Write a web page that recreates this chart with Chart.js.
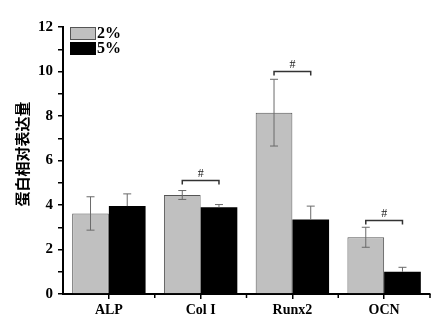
<!DOCTYPE html>
<html>
<head>
<meta charset="utf-8">
<script src="https://cdn.jsdelivr.net/npm/chart.js@4"></script>
<style>
  body { margin: 0; background: #fff; }
  #wrap { width: 445px; height: 326px; }
</style>
</head>
<body>
<div id="wrap"><canvas id="barChart"></canvas></div>
<script>
const categories = ['ALP', 'Col I', 'Runx2', 'OCN'];
const series2 = [3.62, 4.45, 8.15, 2.55];
const err2 = [0.75, 0.2, 1.5, 0.45];
const series5 = [3.95, 3.9, 3.35, 1.0];
const err5 = [0.55, 0.12, 0.6, 0.2];
const yTicks = [0, 2, 4, 6, 8, 10, 12];
const sigIndex = [1, 2, 3];
const sigLevel = [5.1, 10.0, 3.3];

const serif = '"Liberation Serif", "DejaVu Serif", serif';

// error bars, significance brackets, minor x ticks, legend and y title
const extras = {
  id: 'extras',
  afterDatasetsDraw(chart) {
    const ctx = chart.ctx;
    const y = chart.scales.y;
    const x = chart.scales.x;
    const errs = [err2, err5];
    const vals = [series2, series5];
    ctx.save();
    ctx.strokeStyle = '#6a6a6a';
    ctx.lineWidth = 1;
    for (let d = 0; d < 2; d++) {
      const meta = chart.getDatasetMeta(d);
      meta.data.forEach((bar, i) => {
        const top = y.getPixelForValue(vals[d][i] + errs[d][i]);
        const mid = y.getPixelForValue(vals[d][i]);
        const bot = y.getPixelForValue(vals[d][i] - errs[d][i]);
        ctx.beginPath();
        ctx.moveTo(bar.x, top);
        ctx.lineTo(bar.x, d === 0 ? bot : mid);
        ctx.moveTo(bar.x - 4, top); ctx.lineTo(bar.x + 4, top);
        if (d === 0) { ctx.moveTo(bar.x - 4, bot); ctx.lineTo(bar.x + 4, bot); }
        ctx.stroke();
      });
    }
    // brackets
    ctx.strokeStyle = '#333';
    ctx.lineWidth = 1.5;
    ctx.fillStyle = '#222';
    ctx.font = '12px ' + serif;
    ctx.textAlign = 'center';
    ctx.textBaseline = 'bottom';
    sigIndex.forEach((ci, k) => {
      const x1 = chart.getDatasetMeta(0).data[ci].x;
      const x2 = chart.getDatasetMeta(1).data[ci].x;
      const py = y.getPixelForValue(sigLevel[k]);
      ctx.beginPath();
      ctx.moveTo(x1, py + 4); ctx.lineTo(x1, py); ctx.lineTo(x2, py); ctx.lineTo(x2, py + 4);
      ctx.stroke();
      ctx.fillText('#', (x1 + x2) / 2, py - 1);
    });
    // minor x ticks at category boundaries
    ctx.strokeStyle = '#000';
    ctx.lineWidth = 1.5;
    const step = (x.right - x.left) / categories.length;
    for (let i = 1; i <= categories.length; i++) {
      const px = x.left + step * i;
      ctx.beginPath();
      ctx.moveTo(px, y.bottom); ctx.lineTo(px, y.bottom + 4);
      ctx.stroke();
    }
    // legend
    ctx.lineWidth = 1;
    ctx.fillStyle = '#c0c0c0';
    ctx.fillRect(70, 27, 26, 13);
    ctx.strokeStyle = '#555';
    ctx.strokeRect(70.5, 27.5, 25, 12);
    ctx.fillStyle = '#000';
    ctx.fillRect(70, 42, 26, 13);
    ctx.font = 'bold 16px ' + serif;
    ctx.textAlign = 'left';
    ctx.textBaseline = 'middle';
    ctx.fillText('2%', 97, 34);
    ctx.fillText('5%', 97, 49);
    // y title
    ctx.translate(22, 154);
    ctx.rotate(-Math.PI / 2);
    ctx.textAlign = 'center';
    ctx.font = 'bold 15px "Noto Sans CJK SC", sans-serif';
    ctx.fillText('蛋白相对表达量', 0, 0);
    ctx.restore();
  }
};

new Chart(document.getElementById('barChart'), {
  type: 'bar',
  data: {
    labels: categories,
    datasets: [
      { label: '2%', data: series2, backgroundColor: '#c0c0c0', borderColor: '#555', borderWidth: 1,
        categoryPercentage: 0.8, barPercentage: 1.0 },
      { label: '5%', data: series5, backgroundColor: '#000', borderColor: '#000', borderWidth: 0,
        categoryPercentage: 0.8, barPercentage: 1.0 }
    ]
  },
  options: {
    responsive: true,
    maintainAspectRatio: false,
    animation: false,
    layout: { padding: { top: 27, right: 15, left: 0, bottom: 0 } },
    plugins: { legend: { display: false }, tooltip: { enabled: false } },
    scales: {
      x: {
        afterFit(s) { s.height = 32; },
        grid: { offset: false, drawOnChartArea: false, drawTicks: true, tickLength: 5, color: '#000', lineWidth: 1.5 },
        border: { display: true, color: '#000', width: 2 },
        ticks: { color: '#000', font: { family: serif, size: 14, weight: 'bold' }, padding: 3 }
      },
      y: {
        min: 0, max: 12,
        afterFit(s) { s.width = 63; },
        afterBuildTicks(s) {
          const t = [];
          for (let v = 0; v <= 12; v++) t.push({ value: v });
          s.ticks = t;
        },
        grid: { drawOnChartArea: false, drawTicks: true, tickLength: 5, color: '#000', lineWidth: 1.5 },
        border: { display: true, color: '#000', width: 2 },
        ticks: {
          color: '#000', padding: 5,
          font: { family: serif, size: 15, weight: 'bold' },
          callback: v => yTicks.includes(v) ? String(v) : ''
        }
      }
    }
  },
  plugins: [extras]
});
</script>
</body>
</html>
